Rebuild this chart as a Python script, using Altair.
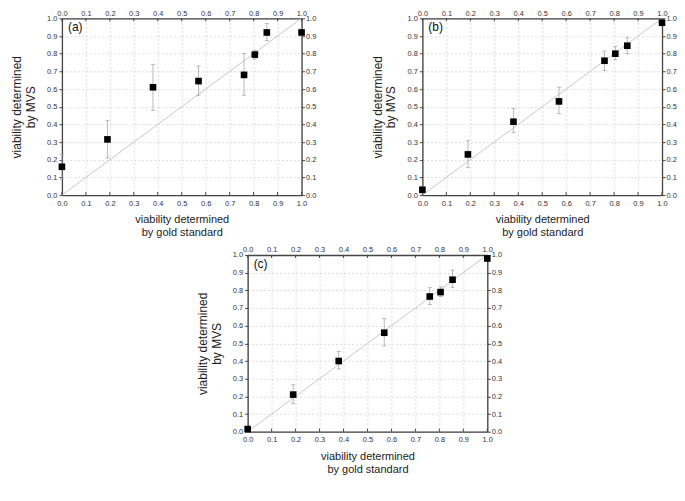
import altair as alt
import pandas as pd

# ---- data ----
x_gold = [0.0, 0.19, 0.38, 0.57, 0.76, 0.805, 0.855, 1.0]

a_mvs = [0.16, 0.315, 0.61, 0.645, 0.68, 0.795, 0.92, 0.92]
a_lo = [0.09, 0.21, 0.48, 0.565, 0.565, 0.77, 0.875, 0.90]
a_hi = [0.23, 0.42, 0.74, 0.73, 0.80, 0.82, 0.97, 0.94]

b_mvs = [0.03, 0.23, 0.415, 0.53, 0.76, 0.80, 0.845, 0.975]
b_lo = [0.01, 0.155, 0.355, 0.46, 0.705, 0.765, 0.80, 0.96]
b_hi = [0.05, 0.31, 0.49, 0.61, 0.815, 0.84, 0.89, 0.99]

c_mvs = [0.015, 0.21, 0.40, 0.56, 0.765, 0.79, 0.86, 0.98]
c_lo = [0.005, 0.16, 0.355, 0.485, 0.72, 0.765, 0.815, 0.97]
c_hi = [0.025, 0.265, 0.455, 0.64, 0.815, 0.82, 0.915, 0.99]

tick_vals = [0.0, 0.1, 0.2, 0.3, 0.4, 0.5, 0.6, 0.7, 0.8, 0.9, 1.0]
diag_vals = [0.0, 1.0]
panel_labels = ["(a)", "(b)", "(c)"]

x_title = ["viability determined", "by gold standard"]
y_title = ["viability determined", "by MVS"]

FONT = "Liberation Sans"
W, H = 240, 177
AXC = "#444444"
LABC = "#333333"
LFS = 7.5


def panel(ys, lo, hi, label):
    df = pd.DataFrame({"x": x_gold, "y": ys, "lo": lo, "hi": hi})
    diag = pd.DataFrame({"d": diag_vals})
    ticks = pd.DataFrame({"t": tick_vals})
    lab = pd.DataFrame({"t": [label], "lx": [0.025], "ly": [0.95]})
    sc = alt.Scale(domain=[0, 1], nice=False, zero=False)

    bottom_axis = alt.Axis(orient="bottom", values=tick_vals, format=".1f", grid=True,
                           gridDash=[2, 2], gridColor="#d2d2d2", gridWidth=0.8, ticks=False,
                           labelPadding=4, labelFontSize=LFS, labelColor=LABC, labelFont=FONT,
                           domainColor=AXC, domainWidth=1.3, title=x_title, titleFont=FONT,
                           titleFontSize=11, titleFontWeight="normal", titleColor="#222",
                           titlePadding=7, labelFlush=False)
    left_axis = alt.Axis(orient="left", values=tick_vals, format=".1f", grid=True,
                         gridDash=[2, 2], gridColor="#d2d2d2", gridWidth=0.8, tickSize=3,
                         tickColor=AXC, labelPadding=2, labelFontSize=LFS, labelColor=LABC,
                         labelFont=FONT, domainColor=AXC, domainWidth=1.3, title=y_title,
                         titleFont=FONT, titleFontSize=12, titleFontWeight="normal",
                         titleColor="#222", titlePadding=9, labelFlush=False)
    top_axis = alt.Axis(orient="top", values=tick_vals, format=".1f", grid=False, ticks=False,
                        labelPadding=1, labelFontSize=LFS, labelColor=LABC, labelFont=FONT,
                        domainColor=AXC, domainWidth=1.3, title=None, labelFlush=False)
    right_axis = alt.Axis(orient="right", values=tick_vals, format=".1f", grid=False,
                          tickSize=3, tickColor=AXC, labelPadding=1, labelFontSize=LFS,
                          labelColor=LABC, labelFont=FONT, domainColor=AXC, domainWidth=1.3,
                          title=None, labelFlush=False)

    diag_layer = alt.Chart(diag).mark_line(color="#c8c8c8", strokeWidth=1).encode(
        x=alt.X("d:Q", scale=sc, axis=bottom_axis),
        y=alt.Y("d:Q", scale=sc, axis=left_axis),
    )
    axes2 = alt.Chart(diag).mark_point(opacity=0).encode(
        x=alt.X("d:Q", scale=sc, axis=top_axis),
        y=alt.Y("d:Q", scale=sc, axis=right_axis),
    )
    top_ticks = alt.Chart(ticks).mark_rule(color=AXC, strokeWidth=1).encode(
        x=alt.X("t:Q", axis=None), y=alt.YDatum(1.0, axis=None), y2=alt.Y2Datum(0.983)
    )
    bot_ticks = alt.Chart(ticks).mark_rule(color=AXC, strokeWidth=1).encode(
        x=alt.X("t:Q", axis=None), y=alt.YDatum(0.0, axis=None), y2=alt.Y2Datum(0.017)
    )
    err = alt.Chart(df).mark_rule(color="#a8a8a8", strokeWidth=0.8).encode(
        x=alt.X("x:Q", axis=None), y=alt.Y("lo:Q", axis=None), y2="hi:Q"
    )
    cap_lo = alt.Chart(df).mark_tick(orient="horizontal", size=4, thickness=0.8,
                                     color="#a8a8a8", opacity=1).encode(
        x=alt.X("x:Q", axis=None), y=alt.Y("lo:Q", axis=None)
    )
    cap_hi = alt.Chart(df).mark_tick(orient="horizontal", size=4, thickness=0.8,
                                     color="#a8a8a8", opacity=1).encode(
        x=alt.X("x:Q", axis=None), y=alt.Y("hi:Q", axis=None)
    )
    pts = alt.Chart(df).mark_square(size=44, color="black", opacity=1, filled=True).encode(
        x=alt.X("x:Q", axis=None), y=alt.Y("y:Q", axis=None)
    )
    txt = alt.Chart(lab).mark_text(align="left", baseline="middle", font=FONT, fontSize=12,
                                   color="#111").encode(
        x=alt.X("lx:Q", axis=None), y=alt.Y("ly:Q", axis=None), text="t:N"
    )
    return alt.layer(diag_layer, axes2, top_ticks, bot_ticks, err, cap_lo, cap_hi, pts, txt
                     ).resolve_axis(x="independent", y="independent").properties(width=W, height=H)


pa = panel(a_mvs, a_lo, a_hi, panel_labels[0])
pb = panel(b_mvs, b_lo, b_hi, panel_labels[1])
pc = panel(c_mvs, c_lo, c_hi, panel_labels[2])

spacer = alt.Chart(pd.DataFrame({"s": [0]})).mark_point(opacity=0).encode(
    x=alt.X("s:Q", axis=None), y=alt.Y("s:Q", axis=None)
).properties(width=124, height=10, view=alt.ViewConfig(stroke=None, strokeWidth=0))

top = alt.hconcat(pa, pb, spacing=54)
bottom = alt.hconcat(spacer, pc, spacing=10)

chart = alt.vconcat(top, bottom, spacing=7).properties(
    padding={"left": 2, "top": 0, "right": 0, "bottom": 0}
).configure_view(stroke=None, strokeWidth=0).configure(font=FONT, background="white")

chart.save("out.html", embed_options={"renderer": "svg", "actions": False})
